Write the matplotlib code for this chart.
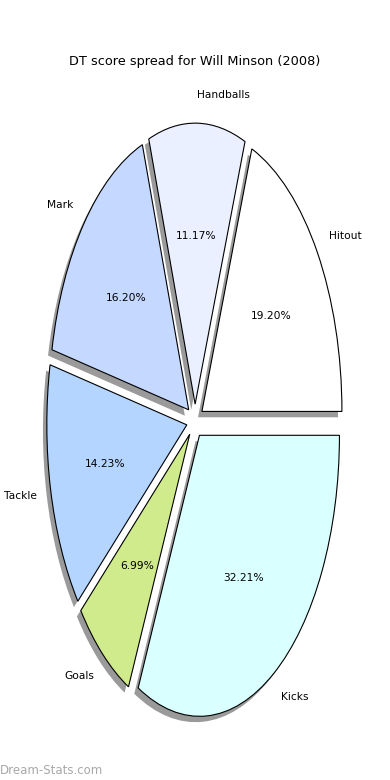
import matplotlib
matplotlib.use('Agg')
import matplotlib.pyplot as plt

# data
categories = ["Hitout", "Handballs", "Mark", "Tackle", "Goals", "Kicks"]
shares = [19.20, 11.17, 16.20, 14.23, 6.99, 32.21]
colors = ["#FFFFFF", "#EAF0FF", "#C5D8FF", "#B3D5FF", "#D0EB8C", "#DAFFFF"]

W, H = 390, 780
fig = plt.figure(figsize=(W / 100, H / 100), dpi=100)
ax = fig.add_axes([0, 0, 1, 1])

# pie centre (195, 421) px, radius 140 px wide x 281 px tall
cx, cy, sx, sy = 195, 421, 140, 281

wedges, texts, autotexts = ax.pie(
    shares, labels=categories, colors=colors, explode=[0.06] * len(shares),
    autopct="%1.2f%%", startangle=0,
    shadow=dict(ox=-0.02, oy=-0.015, facecolor="#9a9a9a", alpha=1.0, edgecolor="none"),
    wedgeprops=dict(edgecolor="black", linewidth=0.8),
    textprops=dict(fontsize=7.7, color="black"))
ax.set_aspect("auto")
ax.set_xlim(-cx / sx, (W - cx) / sx)
ax.set_ylim((cy - H) / sy, cy / sy)
ax.axis("off")

fig.text(0.5, 1 - 61 / H, "DT score spread for Will Minson (2008)",
         ha="center", va="center", fontsize=9.3)
fig.text(0.0, 1 - 770 / H, "Dream-Stats.com", ha="left", va="center",
         fontsize=8.5, color="#a8a8a8")

fig.savefig("out.png", dpi=100, facecolor="white")
